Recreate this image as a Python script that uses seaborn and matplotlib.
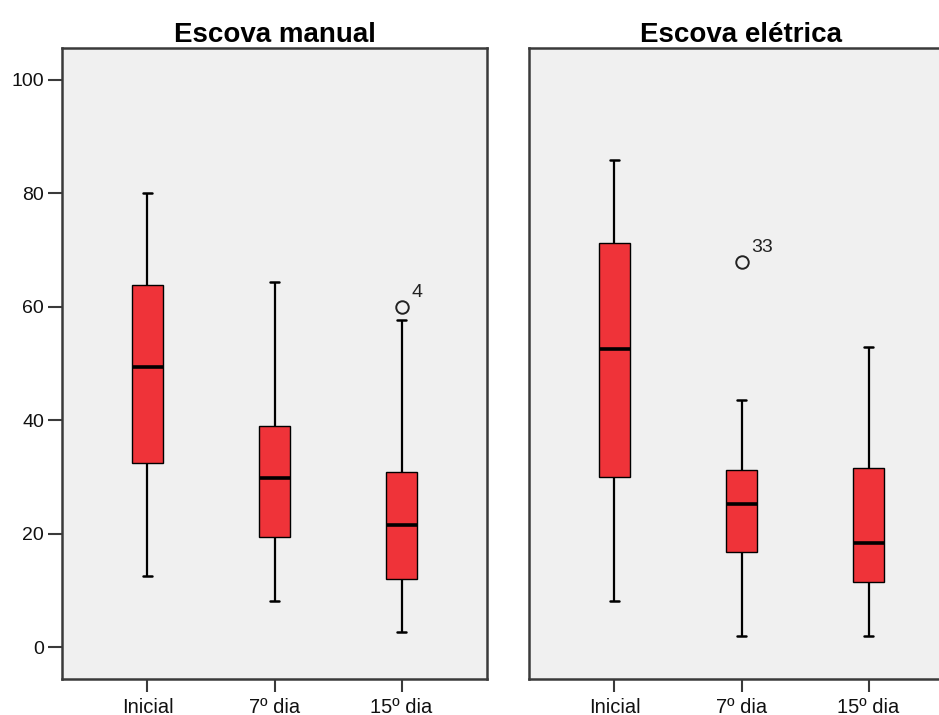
import matplotlib
matplotlib.use("Agg")
import matplotlib.pyplot as plt
import seaborn as sns
import pandas as pd

# momentos de avaliacao
time_points = ["Inicial", "7º dia", "15º dia"]
panels = ["Escova manual", "Escova elétrica"]

# valores (min, Q1, mediana, Q3, bigode / outlier)
manual_inicial = [12.5, 32.5, 32.5, 49.4, 49.4, 63.9, 63.9, 80.0, 80.0]
manual_7dia = [8.1, 19.5, 19.5, 29.9, 29.9, 39.0, 39.0, 64.3, 64.3]
manual_15dia = [2.7, 12.0, 12.0, 21.5, 21.5, 30.8, 30.8, 57.7, 59.9]

eletrica_inicial = [8.1, 30.0, 30.0, 52.5, 52.5, 71.2, 71.2, 85.8, 85.8]
eletrica_7dia = [2.0, 16.7, 16.7, 25.3, 25.3, 31.2, 31.2, 43.6, 67.8]
eletrica_15dia = [1.9, 11.5, 11.5, 18.3, 18.3, 31.5, 31.5, 52.9, 52.9]

# numero do caso dos outliers
outlier_cases = {"Escova manual": ("15º dia", "4"), "Escova elétrica": ("7º dia", "33")}

groups = {
    "Escova manual": [manual_inicial, manual_7dia, manual_15dia],
    "Escova elétrica": [eletrica_inicial, eletrica_7dia, eletrica_15dia],
}

rows = []
for panel, series in groups.items():
    for t, vals in zip(time_points, series):
        for v in vals:
            rows.append({"escova": panel, "tempo": t, "valor": v})
df = pd.DataFrame(rows)

sns.set_theme(style="white")
plt.rcParams["font.family"] = ["Liberation Sans", "DejaVu Sans"]
plt.rcParams["text.color"] = "black"
plt.rcParams["xtick.labelcolor"] = "#111111"
plt.rcParams["ytick.labelcolor"] = "#111111"

frame_color = "#3a3a3a"
fig = plt.figure(figsize=(9.39, 7.15), dpi=100)
ax1 = fig.add_axes([62 / 939, 1 - 679 / 715, 425 / 939, 631 / 715])
ax2 = fig.add_axes([529 / 939, 1 - 679 / 715, 425 / 939, 631 / 715])

for ax, panel in zip([ax1, ax2], panels):
    sub = df[df["escova"] == panel]
    sns.boxplot(
        data=sub, x="tempo", y="valor", order=time_points, ax=ax,
        color="#ef3339", saturation=1, width=0.25, whis=1.5,
        linecolor="black", linewidth=1.0,
        medianprops={"color": "black", "linewidth": 2.6},
        whiskerprops={"color": "black", "linewidth": 1.6},
        capprops={"color": "black", "linewidth": 1.8},
        capwidths=0.07, fliersize=9,
        flierprops={"marker": "o", "markerfacecolor": "none",
                    "markeredgecolor": "#222222", "markeredgewidth": 1.4},
    )
    t, label = outlier_cases[panel]
    xi = time_points.index(t)
    yv = max(sub[sub["tempo"] == t]["valor"])
    ax.annotate(label, (xi, yv), xytext=(7, 11), textcoords="offset points",
                ha="left", va="center", fontsize=14, color="#222222")

    ax.set_facecolor("#f0f0f0")
    ax.set_xlim(-0.673, 2.673)
    ax.set_ylim(-5.6, 105.6)
    ax.set_xlabel("")
    ax.set_ylabel("")
    ax.set_title(panel, fontsize=20, fontweight="bold", pad=4, color="black")
    for s in ax.spines.values():
        s.set_visible(True)
        s.set_color(frame_color)
        s.set_linewidth(1.8)
    ax.tick_params(axis="x", direction="out", length=9.5, width=1.5,
                   color=frame_color, labelsize=14.5, pad=4, bottom=True)

ax1.set_yticks([0, 20, 40, 60, 80, 100])
ax1.tick_params(axis="y", direction="out", length=10, width=1.5,
                color=frame_color, labelsize=14, pad=3, left=True)
ax2.set_yticks([])

plt.savefig("out.png", dpi=100)
plt.close()
